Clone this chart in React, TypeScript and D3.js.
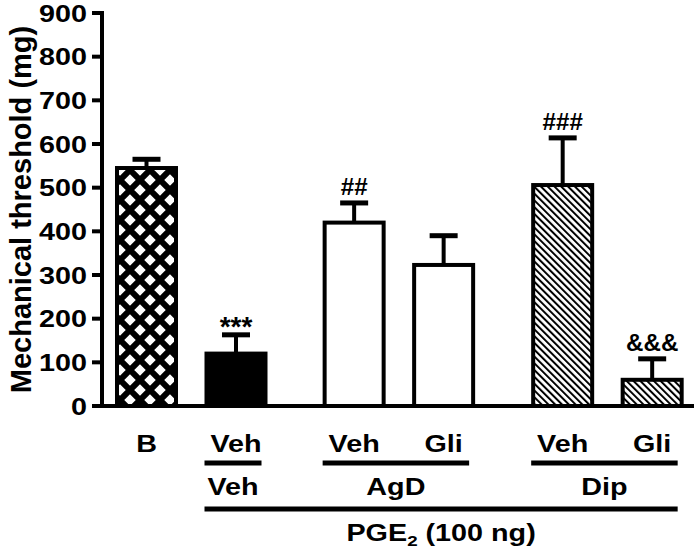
import React from 'react';
import * as d3 from 'd3';

// ---- data ----
const categories = ['B', 'Veh', 'AgD Veh', 'AgD Gli', 'Dip Veh', 'Dip Gli'];
const barLabels = ['B', 'Veh', 'Veh', 'Gli', 'Veh', 'Gli'];
const means = [545, 120, 420, 323, 506, 60];
const sems = [20, 43, 45, 67, 108, 48];
const marks = ['', '***', '##', '', '###', '&&&'];
const fillKinds = ['cross', 'solid', 'white', 'white', 'hatch', 'hatch'];
const groupLabels = ['Veh', 'AgD', 'Dip'];
const groupMembers = [['Veh'], ['AgD Veh', 'AgD Gli'], ['Dip Veh', 'Dip Gli']];
const yTicks = [0, 100, 200, 300, 400, 500, 600, 700, 800, 900];
const yTitle = 'Mechanical threshold (mg)';

// ---- layout ----
const W = 698;
const H = 552;
const slotPos = [0, 1, 2.32, 3.32, 4.65, 5.65];
const FONT = 'Arial, "Liberation Sans", sans-serif';
const SX = 1.25;

export default function App() {
  const y = d3.scaleLinear().domain([0, 900]).range([406, 13]);
  const slot = d3.scaleLinear().domain([0, 1]).range([146.5, 236]);
  const xc = (c: string) => slot(slotPos[categories.indexOf(c)]);
  const barW = 59;
  const axisX = 102;

  const fillOf = (k: string) =>
    k === 'cross' ? 'url(#cross)' : k === 'solid' ? '#000' : k === 'hatch' ? 'url(#hatch)' : '#fff';

  const ST = (x: number, yy: number, txt: React.ReactNode, size: number, anchor = 'middle', key?: any, sx = SX) => (
    <text
      key={key}
      transform={`translate(${x},${yy}) scale(${sx},1)`}
      fontFamily={FONT}
      fontWeight="bold"
      fontSize={size}
      textAnchor={anchor}
      fill="#000"
    >
      {txt}
    </text>
  );

  return (
    <svg width={W} height={H} style={{ position: 'absolute', left: 0, top: 0, background: '#fff' }}>
      <defs>
        <pattern id="cross" width={20} height={20} patternUnits="userSpaceOnUse" x={0} y={0}>
          <rect width={20} height={20} fill="#fff" />
          <path
            d="M-10,10 L10,-10 M-10,30 L30,-10 M10,30 L30,10 M-10,-10 L30,30 M10,-10 L30,10 M-10,10 L10,30"
            stroke="#000"
            strokeWidth={6}
          />
        </pattern>
        <pattern id="hatch" width={4.8} height={10} patternUnits="userSpaceOnUse" patternTransform="rotate(-45)">
          <rect width={4.8} height={10} fill="#fff" />
          <rect x={0} width={2} height={10} fill="#000" />
        </pattern>
      </defs>

      {/* y axis */}
      <line x1={axisX} x2={axisX} y1={y(900) - 2} y2={y(0) + 2} stroke="#000" strokeWidth={4} />
      {yTicks.map((t) => (
        <g key={t}>
          <line x1={axisX - 10} x2={axisX} y1={y(t)} y2={y(t)} stroke="#000" strokeWidth={4} />
          {ST(axisX - 15, y(t) + 8.5, String(t), 23, 'end', 'l' + t)}
        </g>
      ))}
      <text
        transform={`translate(31,${(y(0) + y(900)) / 2}) rotate(-90)`}
        fontFamily={FONT}
        fontWeight="bold"
        fontSize={29}
        textAnchor="middle"
      >
        {yTitle}
      </text>

      {/* bars */}
      {categories.map((c, i) => {
        const cx = xc(c);
        const top = y(means[i]);
        const errTop = y(means[i] + sems[i]);
        const m = marks[i];
        return (
          <g key={c}>
            <line x1={cx} x2={cx} y1={top} y2={errTop} stroke="#000" strokeWidth={4} />
            <line x1={cx - 14} x2={cx + 14} y1={errTop} y2={errTop} stroke="#000" strokeWidth={5} />
            <rect
              x={cx - barW / 2}
              y={top}
              width={barW}
              height={y(0) - top}
              fill={fillOf(fillKinds[i])}
              stroke="#000"
              strokeWidth={4}
            />
            {m && (m === '***'
              ? ST(cx, errTop + 1, m, 28, 'middle', 'm' + i, 1.0)
              : ST(cx, errTop - 8, m, 23, 'middle', 'm' + i, 1.05))}
            {ST(cx, 452, barLabels[i], 23, 'middle', 'b' + i)}
          </g>
        );
      })}

      {/* x baseline */}
      <line x1={axisX - 2} x2={694} y1={y(0)} y2={y(0)} stroke="#000" strokeWidth={4} />

      {/* group lines */}
      {groupLabels.map((g, gi) => {
        const mem = groupMembers[gi];
        const x1 = xc(mem[0]) - barW / 2 - 2;
        const x2 = xc(mem[mem.length - 1]) + barW / 2 - 4;
        return (
          <g key={g}>
            <line x1={x1} x2={x2} y1={463} y2={463} stroke="#000" strokeWidth={5} />
            {ST((x1 + x2) / 2, 495, g, 23, 'middle', 'g' + gi)}
          </g>
        );
      })}

      {/* PGE2 line */}
      {(() => {
        const x1 = xc(groupMembers[0][0]) - barW / 2 - 2;
        const x2 = xc(groupMembers[2][1]) + barW / 2 - 4;
        return (
          <g>
            <line x1={x1} x2={x2} y1={509} y2={509} stroke="#000" strokeWidth={5} />
            <text
              transform={`translate(${(x1 + x2) / 2},541) scale(${SX},1)`}
              fontFamily={FONT}
              fontWeight="bold"
              fontSize={23}
              textAnchor="middle"
            >
              PGE
              <tspan fontSize={15} dy={5}>2</tspan>
              <tspan dy={-5}> (100 ng)</tspan>
            </text>
          </g>
        );
      })()}
    </svg>
  );
}
